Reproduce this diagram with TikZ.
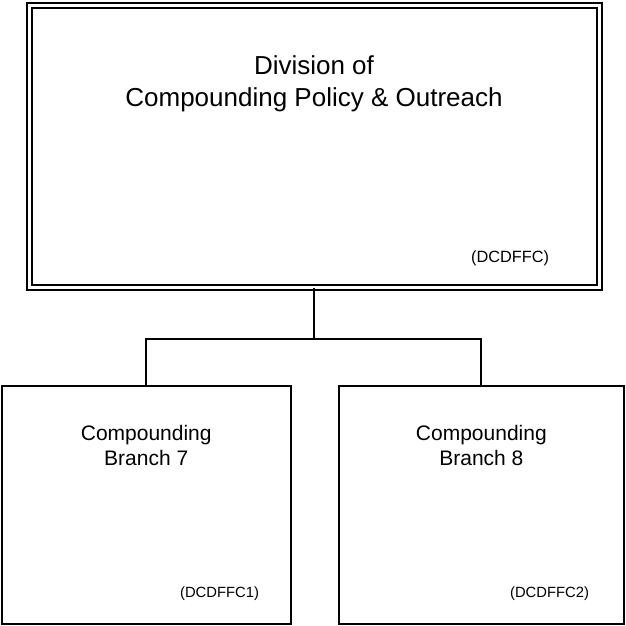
\documentclass[tikz,border=0pt]{standalone}
\usepackage{fontspec}
\setmainfont{Liberation Sans}
\usetikzlibrary{positioning}

\begin{document}
\begin{tikzpicture}[x=1pt, y=1pt, line width=2pt]
\tikzstyle{office}=[draw=black, rectangle, double, double distance=3pt, line width=2pt, inner sep=0pt]
\tikzstyle{branch}=[draw=black, rectangle, line width=2pt, inner sep=0pt, minimum width=289pt, minimum height=238.5pt]
\tikzstyle{code}=[draw=none, inner sep=0pt, anchor=east]
\useasboundingbox (0,0) rectangle (625,626);
\node[office, minimum width=570pt, minimum height=282pt] (div) at (314,479.5) {};
\node[draw=none, align=center, inner sep=0pt, font=\fontsize{26}{32}\selectfont] (divname) at (314,542) {Division of\\Compounding Policy \& Outreach};
\node[code, font=\fontsize{16.3}{19}\selectfont] (divcode) at (550,368) {(DCDFFC)};
\node[branch] (b7) at (146.25,120.75) {};
\node[branch, minimum width=285.3pt] (b8) at (481.35,120.75) {};
\node[draw=none, align=center, inner sep=0pt, font=\fontsize{21}{25}\selectfont] (b7name) at (b7.north |- 0,181) {Compounding\\Branch 7};
\node[draw=none, align=center, inner sep=0pt, font=\fontsize{21}{25}\selectfont] (b8name) at (b8.north |- 0,181) {Compounding\\Branch 8};
\node[code, font=\fontsize{14.8}{18}\selectfont] (b7code) at (260,32) {(DCDFFC1)};
\node[code, font=\fontsize{14.8}{18}\selectfont] (b8code) at (590,32) {(DCDFFC2)};
\coordinate (bus) at (314,287);
\draw (div.south) -- (bus);
\draw (b7.north) |- (bus) -| (b8.north);
\end{tikzpicture}
\end{document}
